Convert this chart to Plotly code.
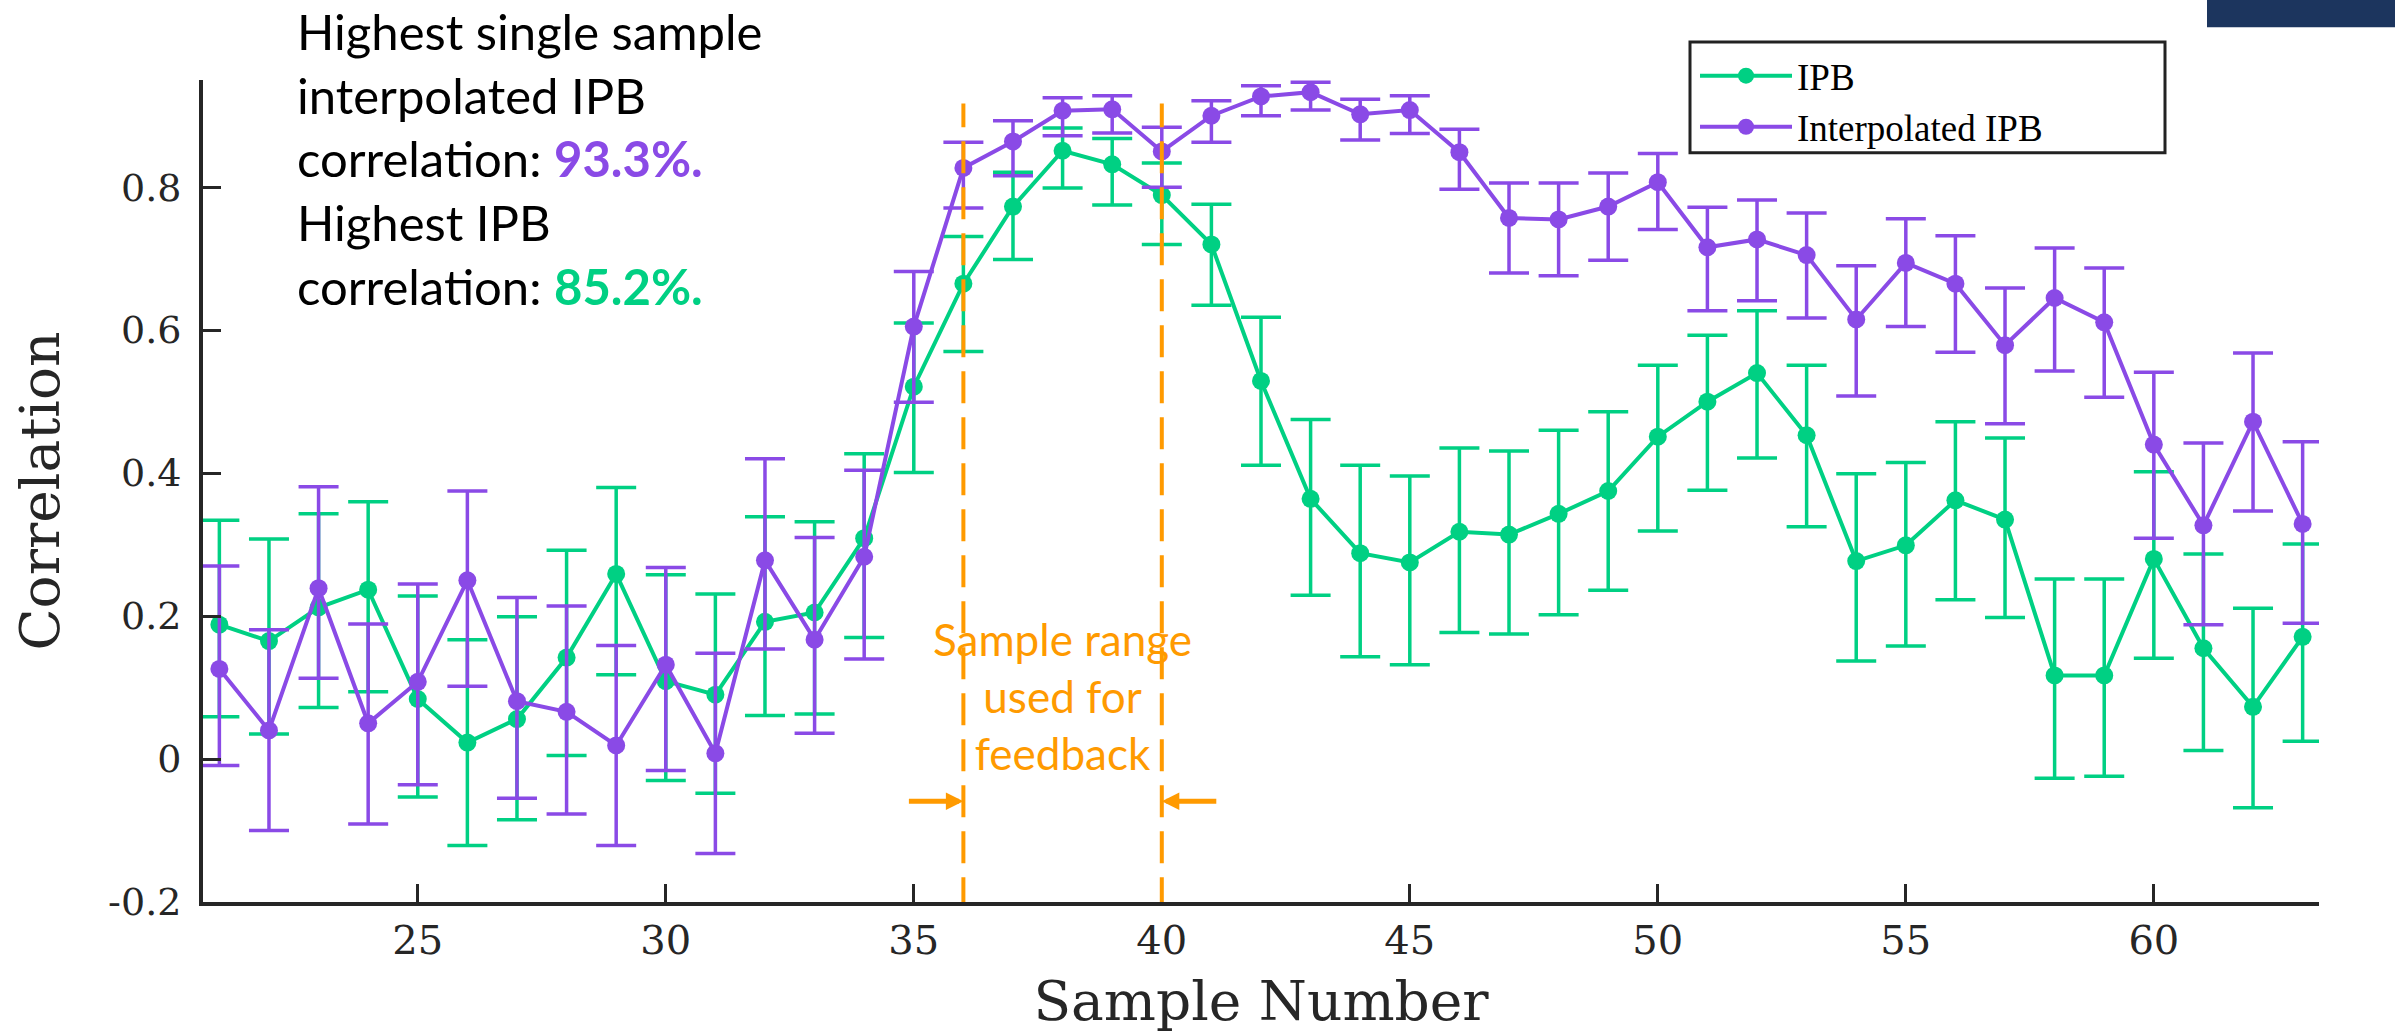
import plotly.graph_objects as go

# ---------------- data ----------------
samples = list(range(21, 64))

ipb_mean = [0.188, 0.165, 0.212, 0.237, 0.084, 0.023, 0.056, 0.142, 0.259, 0.109,
            0.090, 0.192, 0.205, 0.309, 0.521, 0.665, 0.773, 0.851, 0.832, 0.789,
            0.720, 0.529, 0.364, 0.288, 0.275, 0.318, 0.314, 0.343, 0.375, 0.451,
            0.500, 0.540, 0.453, 0.277, 0.299, 0.362, 0.335, 0.117, 0.117, 0.280,
            0.155, 0.073, 0.171]
ipb_err_plus = [0.146, 0.143, 0.131, 0.123, 0.144, 0.144, 0.143, 0.150, 0.121, 0.149,
                0.141, 0.147, 0.127, 0.118, 0.089, 0.066, 0.048, 0.032, 0.036, 0.045,
                0.056, 0.089, 0.111, 0.123, 0.121, 0.117, 0.117, 0.117, 0.111, 0.100,
                0.093, 0.087, 0.098, 0.122, 0.116, 0.110, 0.114, 0.135, 0.135, 0.122,
                0.132, 0.138, 0.130]
ipb_err_minus = [0.129, 0.130, 0.140, 0.143, 0.137, 0.144, 0.141, 0.137, 0.141, 0.139,
                 0.138, 0.131, 0.142, 0.139, 0.120, 0.095, 0.074, 0.052, 0.057, 0.069,
                 0.085, 0.118, 0.135, 0.145, 0.143, 0.141, 0.139, 0.141, 0.139, 0.132,
                 0.124, 0.119, 0.128, 0.140, 0.141, 0.139, 0.137, 0.144, 0.141, 0.139,
                 0.143, 0.141, 0.146]

interp_mean = [0.126, 0.040, 0.239, 0.050, 0.108, 0.250, 0.081, 0.066, 0.019, 0.132,
               0.008, 0.278, 0.167, 0.283, 0.605, 0.827, 0.864, 0.907, 0.909, 0.850,
               0.900, 0.927, 0.933, 0.902, 0.908, 0.849, 0.757, 0.755, 0.773, 0.807,
               0.716, 0.727, 0.705, 0.615, 0.694, 0.665, 0.579, 0.645, 0.611, 0.440,
               0.327, 0.472, 0.329]
interp_err_plus = [0.144, 0.141, 0.142, 0.139, 0.137, 0.125, 0.145, 0.148, 0.140, 0.136,
                   0.140, 0.142, 0.143, 0.121, 0.077, 0.036, 0.029, 0.018, 0.019, 0.034,
                   0.021, 0.015, 0.014, 0.021, 0.020, 0.032, 0.049, 0.051, 0.047, 0.040,
                   0.056, 0.055, 0.059, 0.075, 0.062, 0.067, 0.080, 0.070, 0.076, 0.101,
                   0.115, 0.096, 0.115]
interp_err_minus = [0.135, 0.140, 0.126, 0.141, 0.144, 0.148, 0.136, 0.143, 0.140, 0.148,
                    0.140, 0.124, 0.131, 0.143, 0.106, 0.056, 0.048, 0.035, 0.033, 0.050,
                    0.037, 0.027, 0.025, 0.036, 0.033, 0.052, 0.077, 0.079, 0.075, 0.066,
                    0.089, 0.086, 0.088, 0.107, 0.089, 0.096, 0.110, 0.102, 0.105, 0.131,
                    0.139, 0.125, 0.139]

x_tick_values = [25, 30, 35, 40, 45, 50, 55, 60]
y_tick_values = [-0.2, 0, 0.2, 0.4, 0.6, 0.8]
y_tick_labels = ["-0.2", "0", "0.2", "0.4", "0.6", "0.8"]

feedback_range = [36, 40]
best_interp_pct = "93.3%."
best_ipb_pct = "85.2%."

series_names = ["IPB", "Interpolated IPB"]

# ---------------- styling / geometry ----------------
GREEN = "#00D083"
PURPLE = "#8A4AE6"
ORANGE = "#FF9A00"
NAVY = "#1C355E"
AXIS = "#262626"

W, H = 2395, 1034
L, R, T, B = 203, 76, 80, 130
PW, PH = W - L - R, H - T - B


def px(xp):
    return (xp - L) / PW


def py(yp):
    return (H - B - yp) / PH


fig = go.Figure()

for name, mean, ep, em, col in [
    (series_names[0], ipb_mean, ipb_err_plus, ipb_err_minus, GREEN),
    (series_names[1], interp_mean, interp_err_plus, interp_err_minus, PURPLE),
]:
    fig.add_trace(go.Scatter(
        x=samples, y=mean, name=name, mode="lines+markers",
        line=dict(color=col, width=4),
        marker=dict(color=col, size=18),
        error_y=dict(type="data", symmetric=False, array=ep, arrayminus=em,
                     color=col, thickness=3.5, width=20),
    ))

serif = "DejaVu Serif"

fig.update_layout(
    width=W, height=H,
    margin=dict(l=L, r=R, t=T, b=B, pad=0),
    paper_bgcolor="white", plot_bgcolor="white",
    showlegend=True,
    legend=dict(
        x=px(1695), y=py(45), xanchor="left", yanchor="top",
        bgcolor="rgba(0,0,0,0)", borderwidth=0,
        font=dict(family="Liberation Serif", size=37, color="black"),
        itemwidth=92, tracegroupgap=0,
    ),
    xaxis=dict(
        range=[20.67, 63.33], tickvals=x_tick_values,
        ticks="inside", ticklen=18, tickwidth=2.5, tickcolor=AXIS,
        showline=True, linewidth=4, linecolor=AXIS, mirror=False,
        showgrid=False, zeroline=False,
        tickfont=dict(family=serif, size=40, color=AXIS),
        title=dict(text="Sample Number", font=dict(family=serif, size=55, color=AXIS), standoff=20),
    ),
    yaxis=dict(
        range=[-0.2, 0.95], tickvals=y_tick_values, ticktext=y_tick_labels,
        ticks="inside", ticklen=18, tickwidth=2.5, tickcolor=AXIS,
        showline=True, linewidth=4, linecolor=AXIS, mirror=False,
        showgrid=False, zeroline=False,
        tickfont=dict(family=serif, size=38, color=AXIS),
        ticklabelstandoff=10,
        title=dict(text="Correlation", font=dict(family=serif, size=55, color=AXIS), standoff=32),
    ),
)

shapes = []
# feedback range dashed lines
for xv in feedback_range:
    shapes.append(dict(type="line", xref="x", yref="y", x0=xv, x1=xv, y0=-0.21, y1=0.917,
                       line=dict(color=ORANGE, width=4, dash="32px,14px")))
# legend border box
shapes.append(dict(type="rect", xref="paper", yref="paper",
                   x0=px(1690), x1=px(2165), y0=py(153), y1=py(42),
                   line=dict(color="#222222", width=3), fillcolor="white", layer="above"))
# navy corner block
shapes.append(dict(type="rect", xref="paper", yref="paper",
                   x0=px(2207), x1=px(2400), y0=py(27), y1=py(-5),
                   line=dict(width=0), fillcolor=NAVY, layer="above"))
fig.update_layout(shapes=shapes)

annotations = []
annotations.append(dict(
    xref="paper", yref="paper", x=px(295), y=py(0), xanchor="left", yanchor="top",
    align="left", showarrow=False,
    font=dict(family="Lato", size=49, color="black"),
    text=("Highest single sample<br>interpolated IPB<br>correlation: "
          f"<b><span style='color:{PURPLE}'>{best_interp_pct}</span></b><br>"
          "Highest IPB<br>correlation: "
          f"<b><span style='color:{GREEN}'>{best_ipb_pct}</span></b>"),
))
annotations.append(dict(
    xref="x", yref="paper", x=sum(feedback_range) / 2, y=py(612), xanchor="center", yanchor="top",
    align="center", showarrow=False,
    font=dict(family="Lato", size=44, color=ORANGE),
    text="Sample range<br>used for<br>feedback",
))
for xv, off in [(feedback_range[0], -56), (feedback_range[1], 56)]:
    annotations.append(dict(
        xref="x", yref="paper", x=xv, y=py(803), ax=off, ay=0, text="",
        showarrow=True, arrowhead=2, arrowsize=0.7, arrowwidth=5, arrowcolor=ORANGE,
    ))
fig.update_layout(annotations=annotations)

fig.write_html("out.html")
